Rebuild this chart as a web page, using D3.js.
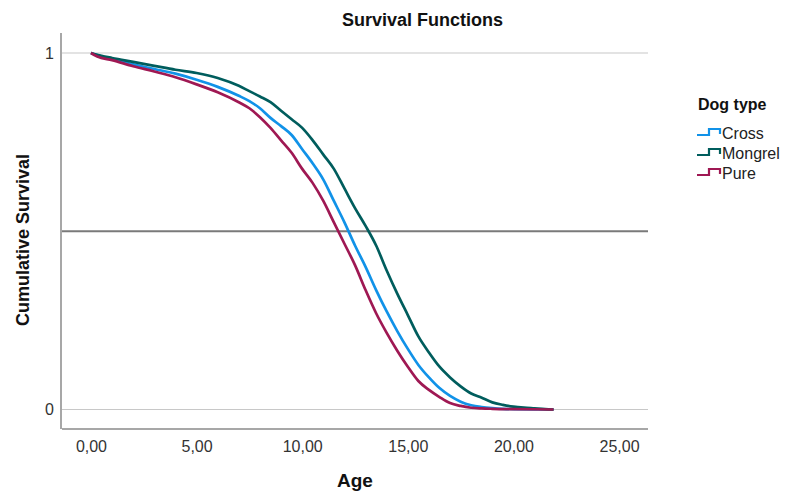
<!DOCTYPE html>
<html><head><meta charset="utf-8">
<script src="https://cdn.jsdelivr.net/npm/d3@7"></script>
<style>body{margin:0;background:#fff}svg{display:block;font-family:"Liberation Sans",Arial,sans-serif}</style>
</head><body><svg id="c" width="785" height="493"></svg>
<script>
const seriesNames = ["Cross","Mongrel","Pure"];
const seriesColors = ["#1192e8","#005d5d","#9f1853"];
const xTicks = [0,5,10,15,20,25];
const xTickLabels = ["0,00","5,00","10,00","15,00","20,00","25,00"];
const yTicks = [0,1];
const yTickLabels = ["0","1"];
const referenceLine = 0.5;

const crossAge = [0,0.5,1,2,3,4,5,6,7,7.5,8,8.5,9,9.5,10,10.5,11,11.5,12,12.5,13,13.5,14,14.5,15,15.5,16,16.5,17,17.5,18,18.5,19,19.5,20,21,21.9];
const crossSurv = [1,0.99,0.982,0.968,0.955,0.942,0.925,0.905,0.88,0.865,0.845,0.818,0.795,0.77,0.73,0.69,0.645,0.585,0.525,0.46,0.4,0.335,0.275,0.22,0.17,0.125,0.09,0.06,0.038,0.022,0.012,0.007,0.004,0.002,0.001,0.0005,0];
const mongrelAge = [0,0.5,1,2,3,4,5,6,7,7.5,8,8.5,9,9.5,10,10.5,11,11.5,12,12.5,13,13.5,14,14.5,15,15.5,16,16.5,17,17.5,18,18.5,19,19.5,20,20.5,21,21.5,21.9];
const mongrelSurv = [1,0.992,0.986,0.975,0.964,0.953,0.944,0.93,0.908,0.893,0.878,0.862,0.838,0.814,0.79,0.755,0.715,0.675,0.62,0.565,0.515,0.46,0.39,0.325,0.265,0.205,0.16,0.12,0.09,0.065,0.045,0.033,0.02,0.013,0.008,0.005,0.003,0.001,0];
const pureAge = [0,0.3,1,2,3,4,5,6,7,7.5,8,8.5,9,9.5,10,10.5,11,11.5,12,12.5,13,13.5,14,14.5,15,15.5,16,16.5,17,17.5,18,18.5,19,20,21.9];
const pureSurv = [1,0.99,0.98,0.963,0.948,0.932,0.912,0.89,0.862,0.845,0.82,0.79,0.755,0.72,0.675,0.635,0.585,0.525,0.465,0.405,0.335,0.27,0.215,0.165,0.12,0.08,0.055,0.035,0.018,0.01,0.005,0.003,0.002,0.001,0];

const seriesAges = [crossAge, mongrelAge, pureAge];
const seriesSurv = [crossSurv, mongrelSurv, pureSurv];

const svg = d3.select("#c");
const x = d3.scaleLinear().domain([-1.37, 26.37]).range([62, 648]);
const y = d3.scaleLinear().domain([0, 1]).range([409.5, 53]);
const font = '"Liberation Sans",Arial,sans-serif';

svg.append("g").selectAll("line").data(yTicks).join("line")
  .attr("x1", 62).attr("x2", 648)
  .attr("y1", d => y(d)).attr("y2", d => y(d))
  .attr("stroke", "#c8c8c8").attr("stroke-width", 1.2);

svg.append("line").attr("x1", 62).attr("x2", 648)
  .attr("y1", y(referenceLine)).attr("y2", y(referenceLine))
  .attr("stroke", "#7a7a7a").attr("stroke-width", 1.8);

const xAxis = d3.axisBottom(x).tickValues(xTicks).tickSize(0).tickPadding(12)
  .tickFormat((d, i) => xTickLabels[i]);
const gx = svg.append("g").attr("transform", "translate(0,429)").call(xAxis);
gx.select(".domain").attr("stroke", "#8a8a8a").attr("stroke-width", 1.5).attr("d", "M62,0H648");
gx.selectAll("text").attr("font-size", 16).attr("fill", "#333").attr("font-family", font);

const yAxis = d3.axisLeft(y).tickValues(yTicks).tickSize(0).tickPadding(7)
  .tickFormat((d, i) => yTickLabels[i]);
const gy = svg.append("g").attr("transform", "translate(61,0)").call(yAxis);
gy.select(".domain").attr("stroke", "#8a8a8a").attr("stroke-width", 1.5).attr("d", "M0,33V429");
gy.selectAll("text").attr("font-size", 16).attr("fill", "#333").attr("font-family", font);

const line = d3.line().x(d => x(d[0])).y(d => y(d[1])).curve(d3.curveMonotoneX);
seriesNames.forEach((name, i) => {
  const pts = seriesAges[i].map((a, j) => [a, seriesSurv[i][j]]);
  svg.append("path").datum(pts).attr("d", line)
    .attr("fill", "none").attr("stroke", seriesColors[i]).attr("stroke-width", 2.7)
    .attr("stroke-linejoin", "round");
});

svg.append("text").attr("x", 342).attr("y", 26).attr("text-anchor", "start")
  .attr("font-size", 18).attr("font-weight", "bold").attr("fill", "#111").text("Survival Functions");
svg.append("text").attr("x", 355).attr("y", 487).attr("text-anchor", "middle")
  .attr("font-size", 19).attr("font-weight", "bold").attr("fill", "#111").text("Age");
svg.append("text").attr("transform", "translate(29,240) rotate(-90)").attr("text-anchor", "middle")
  .attr("font-size", 18).attr("font-weight", "bold").attr("fill", "#111").text("Cumulative Survival");

const lg = svg.append("g");
lg.append("text").attr("x", 698).attr("y", 110).attr("font-size", 16).attr("font-weight", "bold")
  .attr("fill", "#111").text("Dog type");
seriesNames.forEach((name, i) => {
  const by = 135 + i * 20;
  lg.append("path").attr("d", `M697,${by}H709V${by-6}H720V${by-1}`)
    .attr("fill", "none").attr("stroke", seriesColors[i]).attr("stroke-width", 2.2);
  lg.append("text").attr("x", 722).attr("y", by + 3.5).attr("font-size", 16).attr("fill", "#222").text(name);
});
</script></body></html>
